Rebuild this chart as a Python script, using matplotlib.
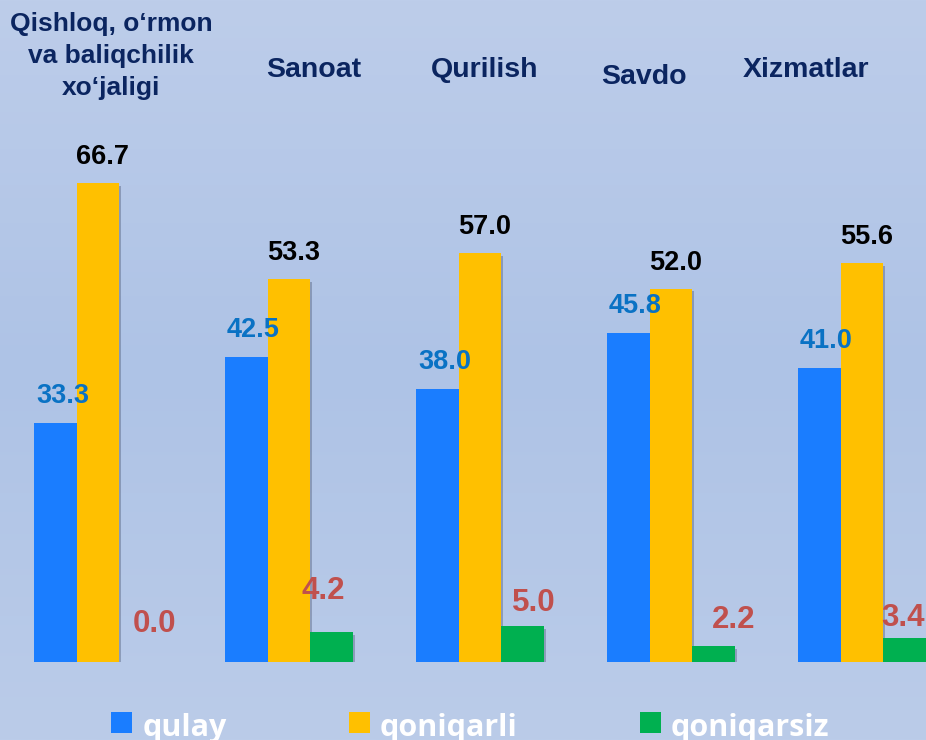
"""
Business climate assessment by sector: share of answers "qulay",
"qoniqarli" and "qoniqarsiz" (per cent), grouped bar chart.
"""
import numpy as np
import matplotlib.pyplot as plt
from matplotlib import patheffects
from matplotlib.colors import LinearSegmentedColormap
from matplotlib.patches import Patch
from matplotlib.transforms import Affine2D

FIG_W, FIG_H, DPI = 926, 740, 100

SECTORS = ["Qishloq, o‘rmon\nva baliqchilik\nxo‘jaligi", "Sanoat", "Qurilish",
           "Savdo", "Xizmatlar"]
SERIES = ["qulay", "qoniqarli", "qoniqarsiz"]
QULAY = [33.3, 42.5, 38.0, 45.8, 41.0]
QONIQARLI = [66.7, 53.3, 57.0, 52.0, 55.6]
QONIQARSIZ = [0.0, 4.2, 5.0, 2.2, 3.4]

BAR_COLORS = ["#1A7DFF", "#FFC000", "#00B050"]
LABEL_COLORS = ["#0A72C4", "#000000", "#C0504D"]
LABEL_SIZES = [19.5, 19.5, 22.5]
TITLE_COLOR = "#0B2560"
BG_COLORS = ["#BDCDEA", "#AEC3E6", "#BBCCE9"]

BAR_WIDTH = 0.2225
# value label nudges, pixels (dx, dy above bar top)
LABEL_OFFSETS = [
    [(7, 27)] * 5,
    [(5, 26)] * 5,
    [(14, 38), (-8, 41), (11, 23), (20, 26), (-1, 20)],
]
# sector title centres, pixels from the left / top edge, and font sizes
TITLE_POS = [(111, 56), (314, 70), (485, 70), (644, 77), (806, 70)]
TITLE_SIZES = [19, 20.5, 20.5, 20.5, 20.5]


def main():
    plt.rcParams["font.family"] = ["Liberation Sans", "DejaVu Sans"]
    fig = plt.figure(figsize=(FIG_W / DPI, FIG_H / DPI), dpi=DPI)

    # soft vertical gradient behind everything
    bg = fig.add_axes([0, 0, 1, 1], zorder=-1)
    cmap = LinearSegmentedColormap.from_list("bg", BG_COLORS)
    bg.imshow(np.linspace(0, 1, 256).reshape(-1, 1), cmap=cmap, aspect="auto",
              extent=[0, 1, 0, 1])
    bg.set_axis_off()

    ax = fig.add_axes([0, 78 / FIG_H, 1, 662 / FIG_H])
    ax.set_facecolor("none")
    ax.set_xlim(-0.513, 4.335)
    ax.set_ylim(0, 92.2)
    ax.set_axis_off()

    x = np.arange(len(SECTORS))
    shadow = [patheffects.SimplePatchShadow(offset=(1.5, -2), shadow_rgbFace="#2b3550",
                                            alpha=0.3),
              patheffects.Normal()]
    for k, values in enumerate([QULAY, QONIQARLI, QONIQARSIZ]):
        pos = x + (k - 1) * BAR_WIDTH
        bars = ax.bar(pos, values, BAR_WIDTH, color=BAR_COLORS[k], linewidth=0)
        for bar in bars:
            bar.set_path_effects(shadow)
        for xi, v, (dx, dy) in zip(pos, values, LABEL_OFFSETS[k]):
            ax.annotate(f"{v:.1f}", (xi, v), xytext=(dx, dy),
                        textcoords="offset pixels", ha="center", va="center",
                        fontsize=LABEL_SIZES[k], fontweight="bold",
                        color=LABEL_COLORS[k])

    for name, (px, py), size in zip(SECTORS, TITLE_POS, TITLE_SIZES):
        fig.text(px / FIG_W, 1 - py / FIG_H, name, ha="center", va="center",
                 fontsize=size, fontweight="bold", color=TITLE_COLOR,
                 linespacing=1.41)

    handles = [Patch(facecolor=c, edgecolor="none") for c in BAR_COLORS]
    leg = fig.legend(handles, SERIES, loc="center left", ncol=3, frameon=False,
                     bbox_to_anchor=(111 / FIG_W, 1 - 725 / FIG_H),
                     borderpad=0, borderaxespad=0,
                     handlelength=0.69, handleheight=0.69, handletextpad=0.33,
                     columnspacing=4.0,
                     prop={"family": "Open Sans", "weight": "bold", "size": 22})
    for t in leg.get_texts():
        t.set_color("white")
        # drop the labels a little so their baseline sits on the swatch bottom
        t.set_transform(t.get_transform() + Affine2D().translate(0, -3))

    fig.savefig("out.png", dpi=DPI)


if __name__ == "__main__":
    main()
